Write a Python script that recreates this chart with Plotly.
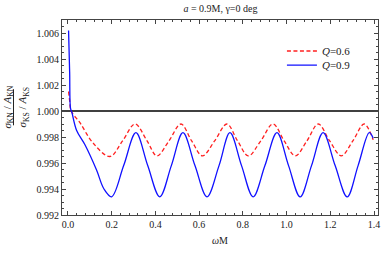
import plotly.graph_objects as go

# Q = 0.6 (red dashed)
x_q06 = [0.003, 0.008, 0.015, 0.055, 0.115, 0.192, 0.250, 0.307, 0.362, 0.407, 0.462, 0.517,
         0.566, 0.615, 0.671, 0.727, 0.776, 0.825, 0.882, 0.938, 0.989, 1.040, 1.093, 1.145,
         1.197, 1.250, 1.303, 1.355, 1.396]
y_q06 = [1.0015, 1.0008, 1.0000, 0.9991, 0.99754, 0.99650, 0.9977, 0.9990, 0.9977, 0.99655, 0.9977, 0.9990,
         0.9977, 0.99655, 0.9977, 0.9990, 0.9977, 0.99655, 0.9977, 0.9990, 0.9977, 0.99655, 0.9977, 0.9990,
         0.9977, 0.99655, 0.9977, 0.9990, 0.99778]

# Q = 0.9 (blue solid)
x_q09 = [0.003, 0.008, 0.012, 0.018, 0.040, 0.078, 0.131, 0.165, 0.200, 0.255, 0.311, 0.365, 0.420,
         0.473, 0.526, 0.581, 0.636, 0.691, 0.741, 0.794, 0.847, 0.901, 0.956, 1.009, 1.062,
         1.114, 1.167, 1.222, 1.277, 1.327, 1.378, 1.396]
y_q09 = [1.0062, 1.0030, 1.0002, 0.9999, 0.9985, 0.9974, 0.99546, 0.9940, 0.9934, 0.9958, 0.99833, 0.9958, 0.9934,
         0.9958, 0.99833, 0.9958, 0.9934, 0.9958, 0.99833, 0.9958, 0.9934, 0.9958, 0.99833, 0.9958, 0.9934,
         0.9958, 0.99833, 0.9958, 0.9934, 0.9958, 0.99833, 0.9979]

ref_x = [-0.03, 1.42]
ref_y = [1.0, 1.0]

x_ticks = [0.0, 0.2, 0.4, 0.6, 0.8, 1.0, 1.2, 1.4]
y_ticks = [0.992, 0.994, 0.996, 0.998, 1.000, 1.002, 1.004, 1.006]

serif = "Liberation Serif"
axcol = "#444444"
txtcol = "#222222"

fig = go.Figure()
fig.add_trace(go.Scatter(x=ref_x, y=ref_y, mode="lines", line=dict(color="black", width=1.5),
                         showlegend=False, hoverinfo="skip"))
fig.add_trace(go.Scatter(x=x_q06, y=y_q06, mode="lines", name="<i>Q</i>=0.6", legend="legend",
                         line=dict(color="#ff2020", width=1.3, dash="4px,2.5px", shape="spline", smoothing=1.0)))
fig.add_trace(go.Scatter(x=x_q09, y=y_q09, mode="lines", name="<i>Q</i>=0.9", legend="legend2",
                         line=dict(color="#1010ff", width=1.3, shape="spline", smoothing=1.0)))

common = dict(showgrid=False, zeroline=False, showline=True, linecolor=axcol, linewidth=1,
              mirror="allticks", ticks="inside", ticklen=4, tickcolor=axcol, tickwidth=1,
              automargin=False, tickfont=dict(family=serif, size=10, color=txtcol))

fig.update_xaxes(range=[-0.027, 1.418], tickvals=x_ticks, ticktext=[f"{v:.1f}" for v in x_ticks],
                 minor=dict(dtick=0.04, tick0=0, ticks="inside", ticklen=2, tickcolor=axcol),
                 **common)
fig.update_yaxes(range=[0.992, 1.007], tickvals=y_ticks, ticktext=[f"{v:.3f}" for v in y_ticks],
                 minor=dict(dtick=0.0005, tick0=0.992, ticks="inside", ticklen=2, tickcolor=axcol),
                 **common)

leg_common = dict(x=0.696, xanchor="left", yanchor="middle", bgcolor="rgba(0,0,0,0)",
                  font=dict(family=serif, size=11, color=txtcol), itemwidth=30)

fig.update_layout(
    width=382, height=253,
    margin=dict(l=62, r=4, t=20, b=38),
    paper_bgcolor="white", plot_bgcolor="white",
    title=dict(text="<i>a</i> = 0.9M, γ=0 deg", x=0.577, xanchor="center", y=0.968, yanchor="middle",
               font=dict(family=serif, size=10, color=txtcol)),
    legend=dict(y=0.841, **leg_common),
    legend2=dict(y=0.769, **leg_common),
    annotations=[
        dict(text="<i>ω</i>M", xref="paper", yref="paper", x=0.5, y=-0.133, showarrow=False,
             xanchor="center", yanchor="middle", font=dict(family=serif, size=10, color=txtcol)),
        dict(text="<i>σ</i><sub>KN</sub> / <i>A</i><sub>KN</sub>", xref="paper", yref="paper",
             x=-0.172, y=0.554, textangle=-90, showarrow=False, xanchor="center", yanchor="middle",
             font=dict(family=serif, size=11, color=txtcol)),
        dict(text="<i>σ</i><sub>KS</sub> / <i>A</i><sub>KS</sub>", xref="paper", yref="paper",
             x=-0.122, y=0.554, textangle=-90, showarrow=False, xanchor="center", yanchor="middle",
             font=dict(family=serif, size=11, color=txtcol)),
    ],
    shapes=[dict(type="line", xref="paper", yref="paper", x0=-0.1535, x1=-0.1535, y0=0.46, y1=0.645,
                 line=dict(color=txtcol, width=1))],
)

fig.write_html("out.html", config={"displayModeBar": False},
               post_script="document.body.style.margin='0';document.body.style.overflow='hidden';")
